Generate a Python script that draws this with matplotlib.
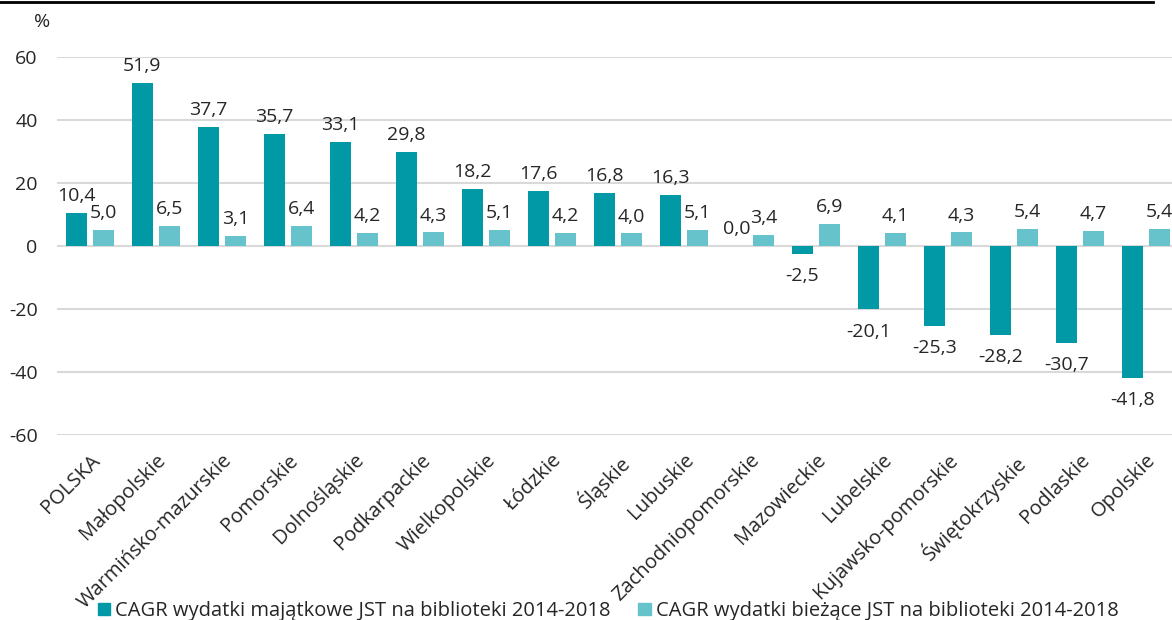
import matplotlib
matplotlib.use("Agg")
import matplotlib.pyplot as plt
import numpy as np
from matplotlib.patches import Patch
from matplotlib.lines import Line2D

plt.rcParams['font.family'] = ['Open Sans', 'DejaVu Sans']

categories = ["POLSKA", "Małopolskie", "Warmińsko-mazurskie", "Pomorskie", "Dolnośląskie",
              "Podkarpackie", "Wielkopolskie", "Łódzkie", "Śląskie", "Lubuskie",
              "Zachodniopomorskie", "Mazowieckie", "Lubelskie", "Kujawsko-pomorskie",
              "Świętokrzyskie", "Podlaskie", "Opolskie"]
majatkowe = [10.4, 51.9, 37.7, 35.7, 33.1, 29.8, 18.2, 17.6, 16.8, 16.3, 0.0, -2.5,
             -20.1, -25.3, -28.2, -30.7, -41.8]
biezace = [5.0, 6.5, 3.1, 6.4, 4.2, 4.3, 5.1, 4.2, 4.0, 5.1, 3.4, 6.9, 4.1, 4.3, 5.4, 4.7, 5.4]
series_names = ["CAGR wydatki majątkowe JST na biblioteki 2014-2018",
                "CAGR wydatki bieżące JST na biblioteki 2014-2018"]
yticks = [-60, -40, -20, 0, 20, 40, 60]

c_dark = "#0099A5"
c_light = "#66C2CB"
txt = "#262626"
fs = 14

W, H = 1172, 620
fig = plt.figure(figsize=(W / 100, H / 100), dpi=100)
ax = fig.add_axes([57 / W, (H - 435) / H, 1122 / W, 378 / H])

x = np.arange(len(categories))
bw = 0.32
off = 0.208
b1 = ax.bar(x - off, majatkowe, bw, color=c_dark, zorder=3)
b2 = ax.bar(x + off, biezace, bw, color=c_light, zorder=3)

def fmt(v):
    return f"{v:.1f}".replace(".", ",")

for bars, vals in ((b1, majatkowe), (b2, biezace)):
    for r, v in zip(bars, vals):
        cx = r.get_x() + r.get_width() / 2
        if v >= 0:
            ax.annotate(fmt(v), (cx, v), xytext=(0, 8.5), textcoords="offset points",
                        ha="center", va="baseline", fontsize=fs, color=txt)
        else:
            ax.annotate(fmt(v), (cx, v), xytext=(0, -9.5), textcoords="offset points",
                        ha="center", va="top", fontsize=fs, color=txt)

ax.set_xlim(-0.5, len(categories) - 0.5)
ax.set_ylim(-60, 60)
ax.set_yticks(yticks)
ax.set_yticklabels([str(t) for t in yticks], fontsize=fs, color=txt)
ax.yaxis.grid(True, color="#D9D9D9", linewidth=1.5, zorder=0)
ax.set_axisbelow(True)
ax.tick_params(axis="both", length=0)
ax.tick_params(axis="y", pad=14)
ax.set_xticks(x)
ax.set_xticklabels(categories, rotation=45, ha="right", rotation_mode="anchor",
                   fontsize=14.5, color=txt)
ax.tick_params(axis="x", pad=11)
for s in ax.spines.values():
    s.set_visible(False)

fig.text(42 / W, 1 - 22 / H, "%", fontsize=fs, color=txt, ha="center", va="center")

fig.add_artist(Line2D([0, 1153 / W], [1 - 1.5 / H, 1 - 1.5 / H], color="black", linewidth=2))

handles = [Patch(color=c_dark), Patch(color=c_light)]
fig.legend(handles, series_names, loc="center", bbox_to_anchor=(608 / W, 1 - 611 / H),
           ncol=2, frameon=False, fontsize=14.5, handlelength=0.6, handleheight=0.6,
           handletextpad=0.25, columnspacing=1.4, labelcolor=txt)

fig.savefig("out.png", dpi=100)
